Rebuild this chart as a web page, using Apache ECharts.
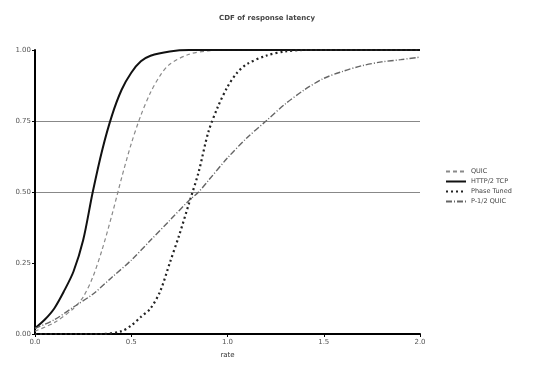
<!DOCTYPE html>
<html>
<head>
<meta charset="utf-8">
<script src="https://cdn.jsdelivr.net/npm/echarts@6/dist/echarts.min.js"></script>
<style>
  html, body { margin: 0; padding: 0; background: #fff; }
  #chart { width: 535px; height: 374px; }
</style>
</head>
<body>
<div id="chart"></div>
<script>
// values (x, cumulative fraction)
const seriesNames = ["QUIC", "HTTP/2 TCP", "Phase Tuned", "P-1/2 QUIC"];
const xTicks = ["0.0", "0.5", "1.0", "1.5", "2.0"];
const yTicks = ["0.00", "0.25", "0.50", "0.75", "1.00"];

const curveQuic = [[0, 0.01], [0.1, 0.04], [0.2, 0.09], [0.25, 0.13], [0.3, 0.2], [0.35, 0.3], [0.4, 0.42],
  [0.45, 0.55], [0.5, 0.67], [0.55, 0.77], [0.6, 0.85], [0.65, 0.91], [0.7, 0.95], [0.8, 0.985],
  [0.9, 0.997], [1.0, 1.0], [2.0, 1.0]];
const curveTcp = [[0, 0.02], [0.05, 0.05], [0.1, 0.09], [0.15, 0.15], [0.2, 0.22], [0.25, 0.33], [0.3, 0.5],
  [0.35, 0.65], [0.4, 0.77], [0.45, 0.86], [0.5, 0.92], [0.55, 0.96], [0.6, 0.98], [0.7, 0.995],
  [0.8, 1.0], [2.0, 1.0]];
const curvePhase = [[0, 0], [0.35, 0], [0.45, 0.01], [0.5, 0.03], [0.55, 0.06], [0.6, 0.09], [0.65, 0.15],
  [0.7, 0.25], [0.75, 0.35], [0.8, 0.46], [0.85, 0.57], [0.9, 0.71], [0.95, 0.8], [1.0, 0.87],
  [1.05, 0.92], [1.1, 0.95], [1.2, 0.98], [1.3, 0.995], [1.4, 1.0], [2.0, 1.0]];
const curveHalf = [[0, 0.02], [0.1, 0.05], [0.2, 0.095], [0.3, 0.14], [0.4, 0.2], [0.5, 0.26], [0.6, 0.33],
  [0.7, 0.4], [0.8, 0.47], [0.85, 0.5], [0.9, 0.54], [1.0, 0.62], [1.1, 0.69], [1.2, 0.75],
  [1.3, 0.81], [1.4, 0.86], [1.5, 0.9], [1.6, 0.925], [1.7, 0.945], [1.8, 0.958], [1.9, 0.966],
  [2.0, 0.975]];

const chart = echarts.init(document.getElementById("chart"), null, { renderer: "canvas" });

const font = "DejaVu Sans";
const styles = [
  { color: "#8a8a8a", width: 1.2, type: [4, 3] },
  { color: "#111", width: 2, type: "solid" },
  { color: "#222", width: 2.2, type: [2, 3] },
  { color: "#666", width: 1.4, type: [6, 2, 1, 2] },
];
const curves = [curveQuic, curveTcp, curvePhase, curveHalf];

const option = {
  backgroundColor: "#fff",
  animation: false,
  title: {
    text: "CDF of response latency",
    left: 262,
    textAlign: "center",
    top: 10,
    textStyle: { fontFamily: font, fontSize: 7, fontWeight: "bold", color: "#444" },
  },
  legend: {
    orient: "vertical",
    left: 440,
    top: 163,
    itemWidth: 20,
    itemHeight: 8,
    itemGap: 3,
    itemStyle: { opacity: 0 },
    textStyle: { fontFamily: font, fontSize: 6.5, color: "#444" },
    data: seriesNames,
  },
  grid: { left: 35, right: 115, top: 50, bottom: 40, containLabel: false },
  xAxis: {
    type: "value",
    min: 0,
    max: 2,
    interval: 0.5,
    name: "rate",
    nameLocation: "middle",
    nameGap: 18,
    nameTextStyle: { fontFamily: font, fontSize: 7, color: "#333" },
    axisLine: { lineStyle: { color: "#000", width: 2 } },
    axisTick: { show: true, length: 3, lineStyle: { color: "#000" } },
    axisLabel: {
      fontFamily: font, fontSize: 7, color: "#555", margin: 5,
      formatter: (v) => xTicks[Math.round(v / 0.5)],
    },
    splitLine: { show: false },
  },
  yAxis: {
    type: "value",
    min: 0,
    max: 1,
    interval: 0.25,
    axisLine: { show: true, lineStyle: { color: "#000", width: 2 } },
    axisTick: { show: true, length: 3, lineStyle: { color: "#000" } },
    axisLabel: {
      fontFamily: font, fontSize: 7, color: "#555", margin: 4,
      formatter: (v) => yTicks[Math.round(v / 0.25)],
    },
    splitLine: {
      show: true,
      lineStyle: { color: ["transparent", "transparent", "#888", "#888", "transparent"], width: 1.2 },
    },
  },
  series: curves.map((d, i) => ({
    name: seriesNames[i],
    type: "line",
    data: d,
    smooth: 0.3,
    symbol: "none",
    lineStyle: styles[i],
    itemStyle: { color: styles[i].color },
  })),
};

chart.setOption(option);
</script>
</body>
</html>
